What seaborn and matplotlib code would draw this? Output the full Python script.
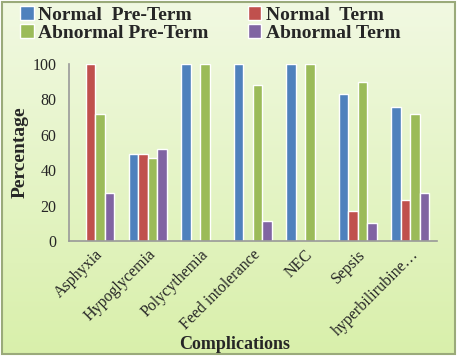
import numpy as np
import pandas as pd
import matplotlib
matplotlib.use("Agg")
import matplotlib.pyplot as plt
from matplotlib.patches import Rectangle
import seaborn as sns

categories = ["Asphyxia", "Hypoglycemia", "Polycythemia", "Feed intolerance",
              "NEC", "Sepsis", "hyperbilirubine\u2026"]
series = ["Normal  Pre-Term", "Normal  Term", "Abnormal Pre-Term", "Abnormal Term"]
normal_pre = [0, 49, 100, 100, 100, 83, 76]
normal_term = [100, 49, 0, 0, 0, 17, 23]
abnormal_pre = [72, 47, 100, 88, 100, 90, 72]
abnormal_term = [27, 52, 0, 11, 0, 10, 27]
colors = ["#4f81bd", "#c0504d", "#9bbb59", "#8064a2"]

df = pd.DataFrame({
    "Complications": categories * 4,
    "Percentage": normal_pre + normal_term + abnormal_pre + abnormal_term,
    "Group": [s for s in series for _ in categories],
})

sns.set_style("white")
plt.rcParams["font.family"] = ["Liberation Serif", "DejaVu Serif"]

fig = plt.figure(figsize=(4.59, 3.58), dpi=100)
fig.patch.set_facecolor("white")

# fond en dégradé + cadre
box = [0.004, 0.011, 0.987, 0.983]
bg = fig.add_axes(box, zorder=-10)
grad = np.linspace(0, 1, 256).reshape(-1, 1)
top = np.array([0.945, 0.975, 0.885])
bot = np.array([0.85, 0.94, 0.67])
img = top + (bot - top) * grad[:, :, None]
bg.imshow(img, aspect="auto", extent=[0, 1, 0, 1])
bg.set_axis_off()
fig.patches.append(Rectangle((box[0], box[1]), box[2], box[3], transform=fig.transFigure,
                             fill=False, edgecolor="#9aaa7a", linewidth=1.5))

ax = fig.add_axes([0.150, 0.327, 0.801, 0.494])
ax.patch.set_alpha(0)
sns.barplot(data=df, x="Complications", y="Percentage", hue="Group",
            palette=colors, width=0.72, saturation=1, ax=ax, legend=True)

ax.set_xlim(-0.5, 6.5)
ax.set_ylim(0, 100)
ax.set_yticks([0, 20, 40, 60, 80, 100])
ax.tick_params(axis="y", labelsize=11.5, length=3, color="#888888", pad=6)
ax.set_xticks(range(len(categories)))
ax.set_xticklabels(categories, rotation=45, ha="right", rotation_mode="anchor",
                   fontsize=11.5)
ax.tick_params(axis="x", length=0, pad=4)
ax.set_xticks(np.arange(-0.5, 7, 1), minor=True)
ax.tick_params(axis="x", which="minor", length=4, color="#888888")
for s in ["top", "right"]:
    ax.spines[s].set_visible(False)
for s in ["left", "bottom"]:
    ax.spines[s].set_color("#999999")
    ax.spines[s].set_linewidth(1.2)
ax.set_ylabel("Percentage", fontsize=14, fontweight="bold", labelpad=3)
ax.set_xlabel("Complications", fontsize=13, fontweight="bold")
ax.xaxis.set_label_coords(0.45, -0.54)

handles, labels = ax.get_legend_handles_labels()
ax.get_legend().remove()
order = [0, 2, 1, 3]
fig.legend([handles[i] for i in order], [labels[i] for i in order],
           loc="upper left", bbox_to_anchor=(0.018, 1.015), ncol=2,
           frameon=False, prop={"weight": "bold", "size": 14}, handlelength=0.7,
           handleheight=0.7, handletextpad=0.25, columnspacing=2.0, labelspacing=0.0,
           borderaxespad=0.2)

fig.savefig("out.png", dpi=100)
